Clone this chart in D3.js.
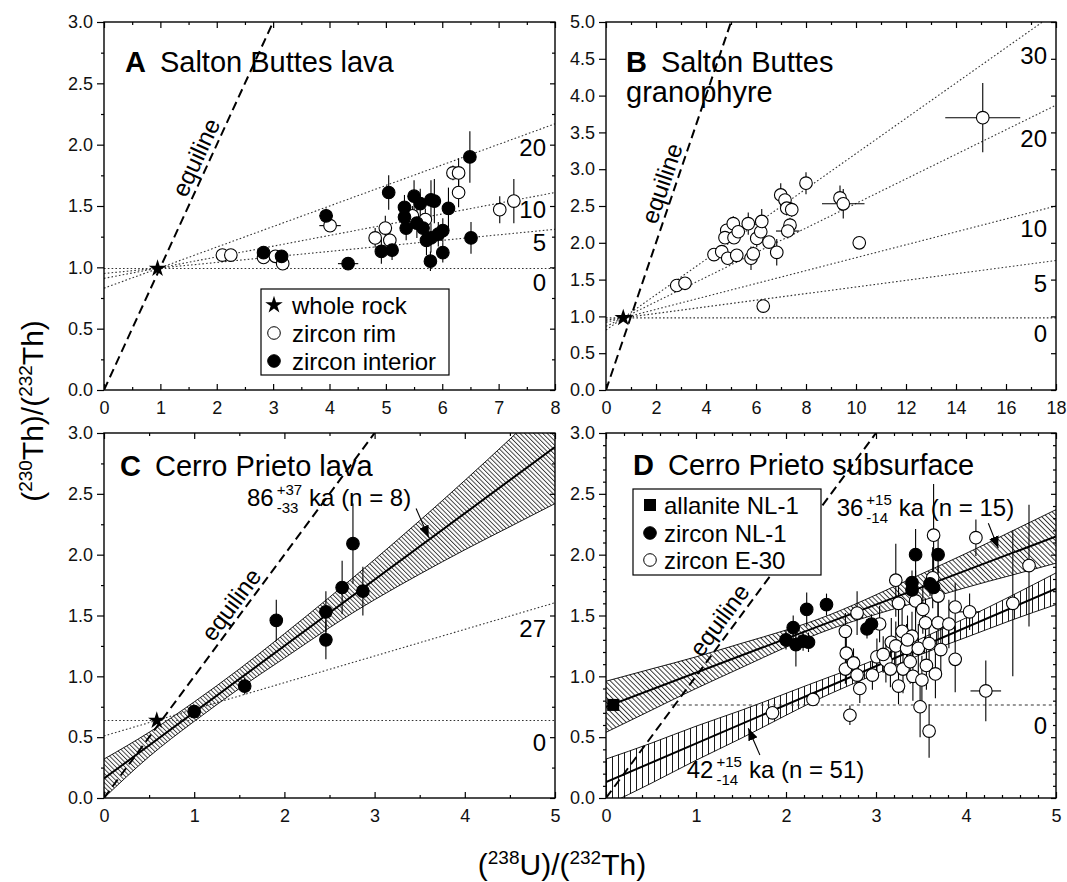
<!DOCTYPE html>
<html><head><meta charset="utf-8">
<script src="https://cdn.jsdelivr.net/npm/d3@7"></script>
<style>
body{margin:0;background:#fff}
svg{font-family:"Liberation Sans",Arial,Helvetica,sans-serif}
</style></head>
<body><svg id="chart" width="1067" height="882"></svg>
<script>
// ================= DATA =================
// Panel A  [x, y, dx, dy]
const aWholeRock = [[0.95, 0.99]];
const aRim = [
 [2.10,1.10,0,0.03],[2.25,1.10,0,0.03],[2.83,1.08,0,0.03],[3.04,1.09,0,0.04],[3.17,1.03,0,0.04],
 [4.01,1.34,0.19,0.05],[4.81,1.24,0.10,0.08],[4.99,1.32,0,0.10],[5.07,1.22,0,0.08],[5.47,1.42,0,0.08],
 [5.70,1.39,0,0.09],[6.19,1.77,0,0.06],[6.29,1.77,0,0.12],[6.29,1.61,0,0.12],[7.02,1.47,0,0.11],[7.27,1.54,0,0.18]
];
const aInterior = [
 [2.83,1.12,0,0.05],[3.15,1.09,0,0.05],[3.94,1.42,0.12,0.06],[4.33,1.03,0.18,0.05],[4.92,1.13,0,0.10],
 [5.11,1.14,0,0.08],[5.05,1.61,0,0.14],[5.33,1.49,0,0.10],[5.50,1.58,0,0.13],[5.33,1.41,0,0.10],
 [5.36,1.32,0,0.10],[5.55,1.36,0,0.12],[5.61,1.52,0,0.12],[5.66,1.32,0,0.12],[5.80,1.55,0,0.16],
 [5.86,1.54,0,0.18],[5.80,1.24,0,0.12],[5.72,1.22,0,0.12],[5.79,1.05,0,0.08],[5.93,1.27,0,0.10],
 [6.01,1.30,0,0.10],[6.01,1.12,0,0.08],[6.11,1.48,0,0.17],[6.49,1.90,0,0.21],[6.51,1.24,0,0.13]
];
const aIsoLabels = ["0","5","10","20"];
const aIsoY0 = [0.99, 0.95, 0.91, 0.83];   // y at x = 0
const aIsoY1 = [0.99, 1.31, 1.61, 2.17];   // y at x = 8
const aIsoLabelY = [0.88, 1.20, 1.47, 1.98];
const aXTicks = [0,1,2,3,4,5,6,7,8];
const aXMinor = [0.5,1.5,2.5,3.5,4.5,5.5,6.5,7.5];
const aYTicks = [0,0.5,1,1.5,2,2.5,3];
const aYMinor = [0.25,0.75,1.25,1.75,2.25,2.75];

// Panel B
const bWholeRock = [[0.69, 0.98]];
const bRim = [
 [2.83,1.42,0,0.05],[3.16,1.45,0,0.05],[4.32,1.84,0,0.05],[4.63,1.88,0,0.05],[4.87,1.79,0,0.08],
 [4.83,2.17,0,0.08],[4.76,2.07,0,0.08],[5.09,2.26,0,0.10],[5.12,2.07,0,0.08],[5.23,1.83,0,0.08],
 [5.29,2.15,0,0.10],[5.69,2.26,0,0.15],[5.80,1.79,0,0.16],[5.89,1.85,0,0.10],[6.03,2.06,0,0.12],
 [6.19,2.15,0,0.10],[6.23,2.29,0,0.17],[6.52,2.01,0,0.08],[6.83,1.87,0,0.18],[6.99,2.65,0,0.16],
 [7.16,2.58,0,0.10],[7.23,2.47,0,0.10],[7.43,2.45,0,0.10],[7.36,2.24,0,0.10],[7.27,2.16,0.47,0.10],
 [8.00,2.81,0,0.15],[9.36,2.61,0,0.17],[9.49,2.53,0.85,0.20],[10.13,2.00,0,0.08],[6.29,1.14,0,0.05],
 [15.07,3.70,1.50,0.47]
];
const bIsoLabels = ["0","5","10","20","30"];
const bIsoY0 = [0.98, 0.95, 0.92, 0.865, 0.815];  // y at x = 0
const bIsoY1 = [0.98, 1.76, 2.50, 3.87, 5.13];    // y at x = 18
const bIsoLabelY = [0.77, 1.45, 2.20, 3.42, 4.55];
const bXTicks = [0,2,4,6,8,10,12,14,16,18];
const bXMinor = [1,3,5,7,9,11,13,15,17];
const bYTicks = [0,0.5,1,1.5,2,2.5,3,3.5,4,4.5,5];

// Panel C  [x, y, dy]
const cWholeRock = [[0.585, 0.637]];
const cZircon = [
 [1.00,0.71,0.03],[1.56,0.92,0.07],[1.91,1.46,0.17],[2.46,1.53,0.17],
 [2.46,1.30,0.16],[2.64,1.73,0.22],[2.76,2.09,0.33],[2.87,1.70,0.20]
];
const cIsoLabels = ["0","27"];
const cIsoY0 = [0.637, 0.51];   // y at x = 0
const cIsoY1 = [0.637, 1.605];  // y at x = 5
const cIsoLabelY = [0.46, 1.39];
const cFit = [[0,0.16],[5,2.885]];
const cBandX = [0,0.5,1,1.5,2,2.5,3,3.5,4,4.5,5];
const cBandUpper = [0.32,0.54,0.79,1.06,1.35,1.65,1.96,2.28,2.61,2.95,3.30];
const cBandLower = [0.00,0.34,0.63,0.90,1.15,1.40,1.63,1.84,2.04,2.23,2.42];
const cXTicks = [0,1,2,3,4,5];
const cXMinor = [0.5,1.5,2.5,3.5,4.5];
const cYTicks = [0,0.5,1,1.5,2,2.5,3];
const cYMinor = [0.25,0.75,1.25,1.75,2.25,2.75];

// Panel D
const dAllanite = [[0.08,0.765,0,0.02]];
const dZirconNL1 = [
 [2.00,1.30,0,0.08],[2.08,1.40,0,0.10],[2.11,1.26,0,0.18],[2.19,1.29,0,0.08],[2.25,1.28,0,0.08],
 [2.23,1.55,0,0.14],[2.45,1.59,0,0.09],[2.90,1.39,0,0.08],[2.95,1.43,0,0.08],[3.40,1.77,0,0.10],
 [3.40,1.71,0,0.10],[3.44,2.00,0,0.21],[3.69,2.00,0,0.15],[3.64,1.73,0,0.10],[3.60,1.76,0,0.10]
];
const dZirconE30 = [
 [1.85,0.70,0,0.04],[2.30,0.81,0,0.05],[2.71,0.68,0,0.08],[2.66,1.06,0,0.12],[2.67,1.19,0,0.15],
 [2.66,1.37,0,0.15],[2.79,1.52,0,0.18],[2.75,1.11,0,0.12],[2.79,1.01,0,0.15],[2.82,0.90,0,0.12],
 [2.96,1.01,0,0.12],[3.04,1.43,0,0.15],[3.01,1.16,0,0.15],[3.11,1.13,0,0.18],[3.17,1.28,0,0.20],
 [3.16,1.06,0,0.15],[3.22,1.79,0,0.30],[3.25,1.60,0,0.20],[3.25,0.92,0,0.15],[3.22,1.25,0,0.20],
 [3.29,1.37,0,0.20],[3.34,1.23,0,0.20],[3.30,1.06,0,0.20],[3.38,1.12,0,0.18],[3.40,1.33,0,0.20],
 [3.41,1.00,0,0.20],[3.44,1.62,0,0.25],[3.47,1.23,0,0.20],[3.49,0.75,0,0.25],[3.51,0.97,0,0.20],
 [3.55,1.44,0,0.20],[3.56,1.09,0,0.20],[3.59,1.27,0,0.20],[3.59,0.55,0,0.22],[3.64,2.16,0,0.42],
 [3.63,1.81,0,0.25],[3.66,1.02,0,0.20],[3.69,1.66,0,0.25],[3.69,1.44,0,0.20],[3.81,1.43,0,0.20],
 [3.88,1.57,0,0.20],[3.88,1.14,0,0.27],[4.04,1.53,0.12,0.15],[4.11,2.14,0,0.15],[4.22,0.88,0.17,0.25],
 [4.52,1.60,0,0.60],[4.70,1.91,0,0.50],[3.35,1.30,0,0.20],[3.08,1.18,0,0.15],[3.52,1.55,0,0.20],
 [3.72,1.22,0,0.20]
];
const dIsoLabels = ["0"];
const dIsoLine = [[0.72,0.765],[5,0.765]];
const dIsoLabelY = [0.60];
const dFitNL1 = [[0,0.75],[5,2.15]];
const dBandX = [0,0.5,1,1.5,2,2.5,3,3.5,4,4.5,5];
const dBandNL1Upper = [0.96,1.06,1.16,1.27,1.38,1.51,1.67,1.84,2.01,2.19,2.37];
const dBandNL1Lower = [0.54,0.72,0.90,1.07,1.24,1.39,1.51,1.62,1.73,1.83,1.93];
const dFitE30 = [[0,0.13],[5,1.72]];
const dBandE30Upper = [0.32,0.45,0.59,0.72,0.86,1.00,1.14,1.31,1.48,1.66,1.85];
const dBandE30Lower = [-0.06,0.12,0.31,0.49,0.68,0.86,1.02,1.18,1.32,1.46,1.59];
const dXTicks = [0,1,2,3,4,5];
const dXMinor = [0.2,0.4,0.6,0.8,1.2,1.4,1.6,1.8,2.2,2.4,2.6,2.8,3.2,3.4,3.6,3.8,4.2,4.4,4.6,4.8];
const dYTicks = [0,0.5,1,1.5,2,2.5,3];
const dYMinor = [0.1,0.2,0.3,0.4,0.6,0.7,0.8,0.9,1.1,1.2,1.3,1.4,1.6,1.7,1.8,1.9,2.1,2.2,2.3,2.4,2.6,2.7,2.8,2.9];

// ================= DRAWING =================
const svg = d3.select("#chart");
const defs = svg.append("defs");
const FS_TICK = 18, FS_TXT = 24, FS_TITLE = 29, R = 6.3;

function hatch(id, spacing, angle, sw){
  const p = defs.append("pattern").attr("id",id).attr("patternUnits","userSpaceOnUse")
    .attr("width",spacing).attr("height",20).attr("patternTransform",`rotate(${angle})`);
  p.append("line").attr("x1",0.5).attr("x2",0.5).attr("y1",0).attr("y2",20)
    .attr("stroke","#000").attr("stroke-width",sw);
}
hatch("hC",3.2,-45,0.8);
hatch("hD1",3.6,-45,0.8);
hatch("hD2",6,0,0.9);
defs.append("marker").attr("id","arr").attr("viewBox","0 0 12 10").attr("refX",12).attr("refY",5)
  .attr("markerWidth",12).attr("markerHeight",10).attr("markerUnits","userSpaceOnUse").attr("orient","auto")
  .append("path").attr("d","M0,0 L12,5 L0,10 Z").attr("fill","#000");

function makePanel(id, lay, xmax, ymax){
  const x = d3.scaleLinear().domain([0,xmax]).range([lay.L,lay.R]);
  const y = d3.scaleLinear().domain([0,ymax]).range([lay.B,lay.T]);
  defs.append("clipPath").attr("id","clip"+id).append("rect")
    .attr("x",lay.L).attr("y",lay.T).attr("width",lay.R-lay.L).attr("height",lay.B-lay.T);
  const g = svg.append("g");
  const plot = g.append("g").attr("clip-path",`url(#clip${id})`);
  return {x,y,lay,g,plot};
}

function styleAxis(sel){
  sel.select(".domain").remove();
  sel.selectAll("line").attr("stroke","#000").attr("stroke-width",1.2);
  sel.selectAll("text").attr("font-size",FS_TICK).attr("font-family","Liberation Sans, Arial, sans-serif").attr("fill","#111");
}

function axes(P, xT, xM, yT, yM, yFmt){
  const {x,y,lay,g} = P;
  const ax = g.append("g");
  ax.append("g").attr("transform",`translate(0,${lay.B})`)
    .call(d3.axisBottom(x).tickValues(xT).tickSize(-6).tickPadding(11).tickFormat(d3.format("d"))).call(styleAxis);
  ax.append("g").attr("transform",`translate(0,${lay.B})`)
    .call(d3.axisBottom(x).tickValues(xM).tickSize(-3).tickFormat("")).call(styleAxis);
  ax.append("g").attr("transform",`translate(0,${lay.T})`)
    .call(d3.axisTop(x).tickValues(xT).tickSize(-6).tickFormat("")).call(styleAxis);
  ax.append("g").attr("transform",`translate(0,${lay.T})`)
    .call(d3.axisTop(x).tickValues(xM).tickSize(-3).tickFormat("")).call(styleAxis);
  ax.append("g").attr("transform",`translate(${lay.L},0)`)
    .call(d3.axisLeft(y).tickValues(yT).tickSize(7).tickPadding(4).tickFormat(d3.format(yFmt))).call(styleAxis);
  if (yM) ax.append("g").attr("transform",`translate(${lay.L},0)`)
    .call(d3.axisLeft(y).tickValues(yM).tickSize(3).tickFormat("")).call(styleAxis);
  ax.append("g").attr("transform",`translate(${lay.R},0)`)
    .call(d3.axisRight(y).tickValues(yT).tickSize(-5).tickFormat("")).call(styleAxis);
  if (yM) ax.append("g").attr("transform",`translate(${lay.R},0)`)
    .call(d3.axisRight(y).tickValues(yM).tickSize(-3).tickFormat("")).call(styleAxis);
  ax.append("rect").attr("x",lay.L).attr("y",lay.T).attr("width",lay.R-lay.L).attr("height",lay.B-lay.T)
    .attr("fill","none").attr("stroke","#000").attr("stroke-width",1.4);
}

function seg(P, parent, p0, p1, dash, w, color){
  return parent.append("line").attr("x1",P.x(p0[0])).attr("y1",P.y(p0[1]))
    .attr("x2",P.x(p1[0])).attr("y2",P.y(p1[1]))
    .attr("stroke",color||"#000").attr("stroke-width",w).attr("stroke-dasharray",dash||null);
}

function isochrons(P, y0, y1, xmax){
  y0.forEach((v,i)=>seg(P,P.plot,[0,v],[xmax,y1[i]],"1.6,2.2",1.1,"#333"));
}
function isoLabels(P, labels, ys){
  P.g.selectAll(null).data(labels).join("text")
    .attr("x",P.lay.R-9).attr("y",(d,i)=>P.y(ys[i])).attr("text-anchor","end")
    .attr("dominant-baseline","central").attr("font-size",FS_TXT).text(d=>d);
}
function equiline(P, xmax, lab){
  seg(P,P.plot,[0,0],[xmax,xmax],"9,5",2);
  const ang = Math.atan2(P.y(0)-P.y(1), P.x(1)-P.x(0))*180/Math.PI;
  P.g.append("text").attr("transform",`translate(${P.x(lab[0])},${P.y(lab[1])}) rotate(${-ang})`)
    .attr("text-anchor","middle").attr("dominant-baseline","central").attr("font-size",FS_TXT).text("equiline");
}
function errorBars(P, data, hasDx){
  const g = P.plot.append("g").attr("stroke","#000").attr("stroke-width",1.1);
  data.forEach(d=>{
    const dy = hasDx ? d[3] : d[2];
    const dx = hasDx ? d[2] : 0;
    if (dy) g.append("line").attr("x1",P.x(d[0])).attr("x2",P.x(d[0])).attr("y1",P.y(d[1]-dy)).attr("y2",P.y(d[1]+dy));
    if (dx) g.append("line").attr("y1",P.y(d[1])).attr("y2",P.y(d[1])).attr("x1",P.x(d[0]-dx)).attr("x2",P.x(d[0]+dx));
  });
}
function circles(P, data, fill){
  P.plot.append("g").selectAll("circle").data(data).join("circle")
    .attr("cx",d=>P.x(d[0])).attr("cy",d=>P.y(d[1])).attr("r",R)
    .attr("fill",fill).attr("stroke","#000").attr("stroke-width",1.1);
}
const starPath = d3.symbol(d3.symbolStar).size(95)();
function stars(P, data){
  P.g.selectAll(null).data(data).join("path").attr("d",starPath)
    .attr("transform",d=>`translate(${P.x(d[0])},${P.y(d[1])})`).attr("fill","#000");
}
function title(P, letter, lines){
  const t = P.g.append("text").attr("x",P.lay.L+lines.dx).attr("y",P.lay.T+lines.dy).attr("font-size",FS_TITLE);
  t.append("tspan").attr("font-weight","bold").text(letter);
  t.append("tspan").attr("dx",lines.gap).text(lines.text[0]);
  if (lines.text[1]) P.g.append("text").attr("x",P.lay.L+lines.dx).attr("y",P.lay.T+lines.dy+30)
    .attr("font-size",FS_TITLE).text(lines.text[1]);
}
function band(P, xs, up, lo, pat){
  const pts = xs.map((v,i)=>({x:v,u:up[i],l:lo[i]}));
  const area = d3.area().x(d=>P.x(d.x)).y0(d=>P.y(d.l)).y1(d=>P.y(d.u)).curve(d3.curveNatural);
  P.plot.append("path").attr("d",area(pts)).attr("fill",`url(#${pat})`).attr("stroke","none");
  const ln = d3.line().x(d=>P.x(d[0])).y(d=>P.y(d[1])).curve(d3.curveNatural);
  P.plot.append("path").attr("d",ln(xs.map((v,i)=>[v,up[i]]))).attr("fill","none").attr("stroke","#000").attr("stroke-width",0.9);
  P.plot.append("path").attr("d",ln(xs.map((v,i)=>[v,lo[i]]))).attr("fill","none").attr("stroke","#000").attr("stroke-width",0.9);
}
function ageLabel(P, at, main, sup, sub, rest){
  const x0 = P.x(at[0]), y0 = P.y(at[1]);
  const t1 = P.g.append("text").attr("x",x0).attr("y",y0).attr("font-size",FS_TXT).text(main);
  const w1 = t1.node().getComputedTextLength();
  const s1 = P.g.append("text").attr("x",x0+w1+3).attr("y",y0-11).attr("font-size",15).text(sup);
  const s2 = P.g.append("text").attr("x",x0+w1+3).attr("y",y0+7).attr("font-size",15).text(sub);
  const w2 = Math.max(s1.node().getComputedTextLength(), s2.node().getComputedTextLength());
  P.g.append("text").attr("x",x0+w1+w2+10).attr("y",y0).attr("font-size",FS_TXT).text(rest);
}
function arrow(P, from, to){
  P.g.append("line").attr("x1",P.x(from[0])).attr("y1",P.y(from[1])).attr("x2",P.x(to[0])).attr("y2",P.y(to[1]))
    .attr("stroke","#000").attr("stroke-width",1.1).attr("marker-end","url(#arr)");
}

// ---------- Panel A ----------
const PA = makePanel("A",{L:104,R:555,T:22,B:390},8,3);
isochrons(PA, aIsoY0, aIsoY1, 8);
equiline(PA, 3, [1.627,1.897]);
errorBars(PA, aRim, true); errorBars(PA, aInterior, true);
circles(PA, aRim, "#fff"); circles(PA, aInterior, "#000");
stars(PA, aWholeRock);
isoLabels(PA, aIsoLabels, aIsoLabelY);
title(PA, "A", {dx:21, dy:50, gap:14, text:["Salton Buttes lava"]});
{
  const lg = PA.g.append("g");
  lg.append("rect").attr("x",261).attr("y",289).attr("width",188).attr("height",86)
    .attr("fill","#fff").attr("stroke","#000").attr("stroke-width",1.2);
  const items = ["whole rock","zircon rim","zircon interior"];
  const ys = [305,333,361];
  lg.append("path").attr("d",starPath).attr("transform",`translate(274,${ys[0]})`).attr("fill","#000");
  lg.append("circle").attr("cx",274).attr("cy",ys[1]).attr("r",R).attr("fill","#fff").attr("stroke","#000");
  lg.append("circle").attr("cx",274).attr("cy",ys[2]).attr("r",R).attr("fill","#000").attr("stroke","#000");
  lg.selectAll("text").data(items).join("text").attr("x",292).attr("y",(d,i)=>ys[i]).attr("dominant-baseline","central")
    .attr("font-size",FS_TXT).text(d=>d);
}
axes(PA, aXTicks, aXMinor, aYTicks, aYMinor, ".1f");

// ---------- Panel B ----------
const PB = makePanel("B",{L:606,R:1056,T:22,B:390},18,5);
isochrons(PB, bIsoY0, bIsoY1, 18);
equiline(PB, 5, [2.228,2.808]);
errorBars(PB, bRim, true);
circles(PB, bRim, "#fff");
stars(PB, bWholeRock);
isoLabels(PB, bIsoLabels, bIsoLabelY);
title(PB, "B", {dx:20, dy:50, gap:14, text:["Salton Buttes","granophyre"]});
axes(PB, bXTicks, bXMinor, bYTicks, null, ".1f");

// ---------- Panel C ----------
const PC = makePanel("C",{L:104,R:555,T:433,B:798},5,3);
band(PC, cBandX, cBandUpper, cBandLower, "hC");
seg(PC, PC.plot, cFit[0], cFit[1], null, 2);
isochrons(PC, cIsoY0, cIsoY1, 5);
equiline(PC, 3, [1.408,1.590]);
errorBars(PC, cZircon, false);
circles(PC, cZircon, "#000");
stars(PC, cWholeRock);
isoLabels(PC, cIsoLabels, cIsoLabelY);
title(PC, "C", {dx:16, dy:43, gap:14, text:["Cerro Prieto lava"]});
ageLabel(PC, [1.585,2.396], "86", "+37", "-33", "ka (n = 8)");
arrow(PC, [3.46,2.38], [3.60,2.14]);
axes(PC, cXTicks, cXMinor, cYTicks, cYMinor, ".1f");

// ---------- Panel D ----------
const PD = makePanel("D",{L:606,R:1056,T:433,B:798},5,3);
band(PD, dBandX, dBandNL1Upper, dBandNL1Lower, "hD1");
band(PD, dBandX, dBandE30Upper, dBandE30Lower, "hD2");
seg(PD, PD.plot, dFitNL1[0], dFitNL1[1], null, 2);
seg(PD, PD.plot, dFitE30[0], dFitE30[1], null, 2);
seg(PD, PD.plot, dIsoLine[0], dIsoLine[1], "3,3", 1.1, "#333");
equiline(PD, 3, [1.259,1.464]);
errorBars(PD, dZirconE30, true); errorBars(PD, dZirconNL1, true);
circles(PD, dZirconE30, "#fff"); circles(PD, dZirconNL1, "#000");
PD.plot.selectAll(null).data(dAllanite).join("rect")
  .attr("x",d=>PD.x(d[0])-6).attr("y",d=>PD.y(d[1])-6).attr("width",12).attr("height",12).attr("fill","#000");
isoLabels(PD, dIsoLabels, dIsoLabelY);
title(PD, "D", {dx:27, dy:42, gap:14, text:["Cerro Prieto subsurface"]});
ageLabel(PD, [2.563,2.318], "36", "+15", "-14", "ka (n = 15)");
ageLabel(PD, [0.897,0.162], "42", "+15", "-14", "ka (n = 51)");
arrow(PD, [4.248,2.258], [4.359,2.052]);
arrow(PD, [1.710,0.353], [1.581,0.573]);
{
  const lg = PD.g.append("g");
  lg.append("rect").attr("x",633).attr("y",489).attr("width",188).attr("height",86)
    .attr("fill","#fff").attr("stroke","#000").attr("stroke-width",1.2);
  const items = ["allanite NL-1","zircon NL-1","zircon E-30"];
  const ys = [505,533,560];
  lg.append("rect").attr("x",644).attr("y",ys[0]-6).attr("width",12).attr("height",12).attr("fill","#000");
  lg.append("circle").attr("cx",650).attr("cy",ys[1]).attr("r",R).attr("fill","#000").attr("stroke","#000");
  lg.append("circle").attr("cx",650).attr("cy",ys[2]).attr("r",R).attr("fill","#fff").attr("stroke","#000");
  lg.selectAll("text").data(items).join("text").attr("x",664).attr("y",(d,i)=>ys[i]).attr("dominant-baseline","central")
    .attr("font-size",FS_TXT).text(d=>d);
}
axes(PD, dXTicks, dXMinor, dYTicks, dYMinor, ".1f");

// ---------- Axis titles ----------
function isoTitle(t, parts){
  parts.forEach(p=>{
    const ts = t.append("tspan").text(p[0]);
    if (p[1]==="sup") ts.attr("font-size",19).attr("dy",-11);
    if (p[1]==="down") ts.attr("dy",11);
  });
}
isoTitle(svg.append("text").attr("transform","translate(43,411) rotate(-90)").attr("text-anchor","middle").attr("font-size",30),
  [["("],["230","sup"],["Th)/(","down"],["232","sup"],["Th)","down"]]);
isoTitle(svg.append("text").attr("x",562).attr("y",875).attr("text-anchor","middle").attr("font-size",30),
  [["("],["238","sup"],["U)/(","down"],["232","sup"],["Th)","down"]]);
</script></body></html>
